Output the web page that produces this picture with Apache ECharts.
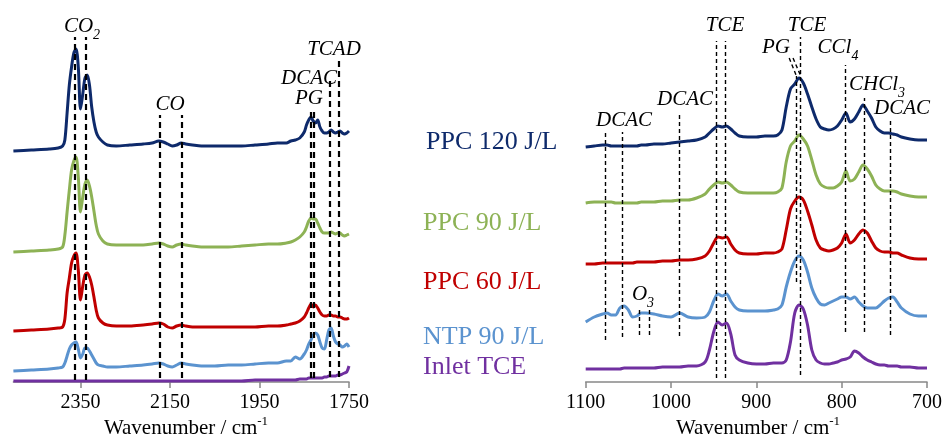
<!DOCTYPE html>
<html><head><meta charset="utf-8">
<script src="https://cdn.jsdelivr.net/npm/echarts@6/dist/echarts.min.js"></script>
<style>html,body{margin:0;padding:0;background:#fff}#c{width:945px;height:436px}</style>
</head><body><div id="c"></div>
<script>
// ---------- LEFT PANEL (2500-1750 cm-1) ----------
const leftWn = [2500,2460,2420,2400,2390,2385,2380,2375,2370,2365,2360,2355,2350,2345,2340,2335,2330,2325,2320,2315,2310,2300,2290,2270,2240,2210,2190,2175,2165,2155,2145,2135,2125,2115,2100,2080,2050,2020,1990,1960,1930,1910,1890,1880,1870,1860,1850,1845,1840,1835,1830,1825,1820,1815,1810,1805,1800,1795,1790,1785,1780,1775,1770,1765,1760,1755,1750];
const ppc120Left = [231,232,233,234,236,242,269,297,315,329,333,315,273,288,304,307,297,275,260,250,245,240,237,236,237,238,239,241,240,238,236,237,239,238,237,236,236,236,236,237,238,239,239,241,242,244,250,257,262,265,261,259,262,255,251,249,249,250,252,250,249,250,251,249,248,249,251];
const ppc90Left  = [130,131,132,133,135,147,170,192,212,221,225,205,170,185,198,202,196,185,171,157,148,141,138,137,137,137,138,139,138,136,135,137,138,137,136,135,135,135,136,137,138,138,139,140,142,145,150,155,161,164,163,163,159,154,150,149,149,149,150,149,148,149,149,147,146,147,148];
const ppc60Left  = [51,52,53,54,55,63,89,104,119,126,129,112,82,96,107,109,105,97,85,72,64,59,57,56,56,57,58,59,58,55,54,56,57,56,55,55,55,55,55,55,56,56,57,58,59,61,65,69,74,78,75,77,74,70,67,66,66,67,67,66,66,65,65,64,63,63,64];
const ntp90Left  = [11,12,13,14,15,19,26,33,37,39,40,33,24,28,34,34,31,27,23,19,17,16,15,15,16,17,18,19,18,16,15,17,19,18,17,16,16,17,17,18,19,19,21,21,25,23,28,32,38,42,47,49,47,40,34,33,42,52,54,46,40,38,37,35,36,38,35];
const inletLeft  = [1,1,1,1,1,1,1,1,1,1,1,1,1,1,1,1,1,1,1,1,1,1,1,1,1,1,1,1,1,1,1,1,1,1,1,1,1,1,1,2,2,2,2,2,2,3,3,3,4,4,4,4,4,4,4,5,5,6,6,6,6,7,7,8,9,10,16];
const leftTicks = [1750,1950,2150,2350];
// dashed marker lines: [wavenumber, from, to]
const leftMarks = [[2362,2,345],[2338,2,345],[2172,4,267],[2123,4,267],[1835,4,272],[1829,4,272],[1794,5,302],[1772,5,322]];

// ---------- RIGHT PANEL (1100-700 cm-1) ----------
const rightWn = [1100,1090,1080,1075,1070,1065,1060,1055,1050,1045,1040,1035,1030,1020,1010,1000,990,980,970,960,955,950,945,940,935,930,925,920,910,900,890,880,875,870,865,860,855,850,845,840,835,830,825,820,815,810,805,800,795,790,785,780,775,770,765,760,755,750,745,740,735,730,720,710,700];
const ppc120Right = [235,236,237,237,236,236,236,236,236,236,236,237,237,238,238,239,240,241,242,245,249,253,256,255,256,253,249,246,245,245,246,246,247,252,275,293,298,304,299,288,275,263,255,253,252,253,256,262,269,260,263,270,277,271,264,255,251,249,249,248,247,245,243,242,242];
const ppc90Right  = [179,180,180,180,180,179,179,179,179,179,179,180,180,180,181,181,182,182,184,188,193,197,200,199,200,197,193,190,189,189,189,189,190,194,220,236,241,247,243,236,222,207,198,195,194,194,196,200,211,201,203,210,217,213,206,197,193,191,191,191,190,188,186,185,185];
const ppc60Right  = [118,118,119,119,119,119,119,119,119,119,120,120,120,120,121,121,122,122,123,126,131,139,145,144,145,138,132,129,128,128,129,129,130,133,152,173,181,185,182,171,157,142,134,132,131,132,134,139,148,139,142,148,152,149,141,134,131,130,130,129,129,127,124,123,123];
const ntp90Right  = [60,65,68,69,67,67,74,76,72,65,66,69,69,68,66,65,69,65,64,65,70,81,88,86,88,81,75,72,71,71,71,72,73,77,95,110,121,126,122,110,94,84,78,77,79,81,83,85,85,83,85,80,76,74,74,74,77,81,84,85,80,74,68,66,66];
const inletRight  = [13,13,13,13,13,13,13,14,14,14,14,14,14,14,15,15,15,16,16,20,32,50,60,57,59,48,27,22,19,18,18,19,19,19,22,40,69,77,73,57,32,22,19,18,18,19,20,22,23,25,31,29,25,22,20,18,17,17,16,16,16,15,15,14,14];
const rightMarks = [[1077,42,250],[1057,45,250],[1037,47,72],[1025,47,72],[990,46,269],[947,4,341],[936,4,341],[853,100,306],[849,7,345],[796,50,317],[774,50,284],[743,47,262]];
const rightSlants = [[[861.5,324],[853,306]],[[857,324],[848.5,307]]];

const seriesNames = ['PPC 120 J/L','PPC 90 J/L','PPC 60 J/L','NTP 90 J/L','Inlet TCE'];
const colors = ['#0e2a6b','#8db255','#c00000','#5b93cf','#7030a0'];

const FONT = 'Liberation Serif';
function pairs(xs, ys){ return xs.map((x,i)=>[x, ys[i]]); }

const leftData = [ppc120Left, ppc90Left, ppc60Left, ntp90Left, inletLeft];
const rightData = [ppc120Right, ppc90Right, ppc60Right, ntp90Right, inletRight];

const series = [];
leftData.forEach((ys, i) => {
  series.push({
    type:'line', name: seriesNames[i], xAxisIndex:0, yAxisIndex:0,
    data: pairs(leftWn, ys), showSymbol:false, symbol:'none', smooth:0.3, clip:false,
    lineStyle:{color:colors[i], width:3}, itemStyle:{color:colors[i]}, z: 2
  });
});
rightData.forEach((ys, i) => {
  series.push({
    type:'line', name: seriesNames[i], xAxisIndex:1, yAxisIndex:1,
    data: pairs(rightWn, ys), showSymbol:false, symbol:'none', smooth:0.3, clip:false,
    lineStyle:{color:colors[i], width:3}, itemStyle:{color:colors[i]}, z: 2
  });
});
// marker line series
series.push({
  type:'line', xAxisIndex:0, yAxisIndex:0, data:[], z:5, silent:true,
  markLine:{silent:true, symbol:['none','none'], label:{show:false}, animation:false,
    lineStyle:{color:'#000', type:[6,4], width:2.2},
    emphasis:{disabled:true},
    data: leftMarks.map(m => [{coord:[m[0], m[1]]},{coord:[m[0], m[2]]}])}
});
series.push({
  type:'line', xAxisIndex:1, yAxisIndex:1, data:[], z:5, silent:true,
  markLine:{silent:true, symbol:['none','none'], label:{show:false}, animation:false,
    lineStyle:{color:'#000', type:[4,3], width:1.4},
    emphasis:{disabled:true},
    data: rightMarks.map(m => [{coord:[m[0], m[1]]},{coord:[m[0], m[2]]}])
      .concat(rightSlants.map(s => [{coord:s[0]},{coord:s[1]}]))}
});

const axisCommon = {
  type:'value', inverse:true,
  axisLine:{show:true, lineStyle:{color:'#888', width:1.5}},
  axisTick:{show:true, length:6, lineStyle:{color:'#888', width:1.5}},
  splitLine:{show:false},
  axisLabel:{fontFamily:FONT, fontSize:20, color:'#000', margin:11, formatter: v => String(v)}
};

const italic = {fontFamily:FONT, fontSize:21, fontStyle:'italic', fill:'#000'};
function lbl(x, y, text){
  return {type:'text', x:x, y:y, style:Object.assign({text:text, textAlign:'center', textVerticalAlign:'middle'}, italic)};
}
function subLbl(x, y, main, sub){
  return {type:'text', x:x, y:y, style:{
    text:'{m|'+main+'}{s|'+sub+'}', textAlign:'center', textVerticalAlign:'middle',
    rich:{ m:{fontFamily:FONT, fontSize:21, fontStyle:'italic', lineHeight:26, verticalAlign:'top'},
           s:{fontFamily:FONT, fontSize:14, fontStyle:'italic', lineHeight:14, verticalAlign:'bottom'} }
  }};
}
function legendText(x, y, text, color){
  return {type:'text', x:x, y:y, style:{text:text, fontFamily:FONT, fontSize:26, fill:color, textAlign:'left', textVerticalAlign:'middle'}};
}
function axisTitle(x, y){
  return {type:'text', x:x, y:y, style:{
    text:'{m|Wavenumber / cm}{s|-1}', textAlign:'center', textVerticalAlign:'middle',
    rich:{ m:{fontFamily:FONT, fontSize:21, lineHeight:24, verticalAlign:'bottom', fill:'#000'},
           s:{fontFamily:FONT, fontSize:13, lineHeight:13, verticalAlign:'top', fill:'#000'} }
  }};
}

const option = {
  animation:false,
  backgroundColor:'#fff',
  grid:[
    {left:13.4, right:596, top:2, bottom:54},
    {left:585.7, right:17.7, top:2, bottom:54}
  ],
  xAxis:[
    Object.assign({}, axisCommon, {gridIndex:0, min:1750, max:2500,
      axisTick:Object.assign({}, axisCommon.axisTick, {customValues:leftTicks}),
      axisLabel:Object.assign({}, axisCommon.axisLabel, {customValues:leftTicks})}),
    Object.assign({}, axisCommon, {gridIndex:1, min:700, max:1100, interval:100})
  ],
  yAxis:[
    {type:'value', gridIndex:0, min:0, max:380, show:false},
    {type:'value', gridIndex:1, min:0, max:380, show:false}
  ],
  series: series,
  graphic: [
    subLbl(82, 29, 'CO', '2'),
    lbl(170, 104, 'CO'),
    lbl(309, 78, 'DCAC'),
    lbl(309, 98, 'PG'),
    lbl(334, 49, 'TCAD'),
    lbl(624, 120, 'DCAC'),
    lbl(685, 99, 'DCAC'),
    lbl(725, 25, 'TCE'),
    lbl(807, 25, 'TCE'),
    lbl(776, 47, 'PG'),
    subLbl(838, 50, 'CCl', '4'),
    subLbl(877, 87, 'CHCl', '3'),
    lbl(902, 108, 'DCAC'),
    subLbl(643, 297, 'O', '3'),
    legendText(426, 142, seriesNames[0], colors[0]),
    legendText(423, 223, seriesNames[1], colors[1]),
    legendText(423, 282, seriesNames[2], colors[2]),
    legendText(423, 337, seriesNames[3], colors[3]),
    legendText(423, 367, seriesNames[4], colors[4]),
    axisTitle(186, 427),
    axisTitle(758, 427)
  ]
};
const chart = echarts.init(document.getElementById('c'));
chart.setOption(option);
</script>
</body></html>
